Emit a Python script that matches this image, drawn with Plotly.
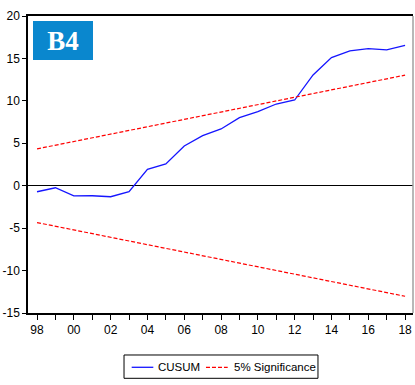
import plotly.graph_objects as go

years = list(range(1998, 2019))
cusum = [-0.71, -0.24, -1.2, -1.18, -1.3, -0.71, 1.93, 2.56, 4.68, 5.9, 6.69,
         8.02, 8.73, 9.63, 10.1, 13.05, 15.1, 15.9, 16.15, 16.0, 16.55]
bound_years = [1998, 2018]
upper = [4.34, 13.03]
lower = [-4.34, -13.03]

tick_years = list(range(1998, 2019))
tick_text = [str(y)[2:] if (y % 2 == 0) else "" for y in tick_years]
y_ticks = [-15, -10, -5, 0, 5, 10, 15, 20]
series_names = ["CUSUM", "5% Significance"]

FONT = "Liberation Sans, Arial, sans-serif"
BLUE = "#1515FF"
RED = "#FF0000"

fig = go.Figure()
fig.add_trace(go.Scatter(x=years, y=cusum, mode="lines", name=series_names[0],
                         line=dict(color=BLUE, width=1.3), showlegend=False))
fig.add_trace(go.Scatter(x=bound_years, y=upper, mode="lines", name=series_names[1],
                         line=dict(color=RED, width=1.2, dash="4px,2px"), showlegend=False))
fig.add_trace(go.Scatter(x=bound_years, y=lower, mode="lines", showlegend=False,
                         line=dict(color=RED, width=1.2, dash="4px,2px")))

fig.update_layout(
    width=415, height=385,
    margin=dict(l=28, r=2, t=16, b=72, autoexpand=False),
    paper_bgcolor="white", plot_bgcolor="white",
    font=dict(family=FONT, size=12, color="black"),
    showlegend=False,
    xaxis=dict(range=[1997.51, 2018.43], tickvals=tick_years, ticktext=tick_text,
               ticks="outside", ticklen=5, tickcolor="black", showgrid=False,
               showline=True, linecolor="black", linewidth=1.5, mirror=True,
               zeroline=False, tickfont=dict(size=12), automargin=False,
               ticklabeloverflow="allow"),
    yaxis=dict(range=[-15, 20], tickvals=y_ticks, ticktext=[str(v) for v in y_ticks],
               ticks="outside", ticklen=4, tickcolor="black", showgrid=False,
               showline=True, linecolor="black", linewidth=1.5,
               zeroline=True, zerolinecolor="black", zerolinewidth=1,
               tickfont=dict(size=12), automargin=False),
)

# right frame edge (grey)
fig.add_shape(type="line", xref="paper", yref="paper", x0=1, x1=1, y0=0, y1=1,
              line=dict(color="#A0A0A0", width=1.5))

# legend drawn below plot
fig.add_shape(type="rect", xref="paper", yref="paper", x0=0.2494, x1=0.7532,
              y0=-0.2199, y1=-0.1414, line=dict(color="black", width=1))
fig.add_shape(type="line", xref="paper", yref="paper", x0=0.2693, x1=0.3255,
              y0=-0.1828, y1=-0.1828, line=dict(color=BLUE, width=1.3))
fig.add_shape(type="line", xref="paper", yref="paper", x0=0.4623, x1=0.5187,
              y0=-0.1828, y1=-0.1828, line=dict(color=RED, width=1.2, dash="4px,2px"))
fig.add_annotation(xref="paper", yref="paper", x=0.3358, y=-0.1828, xanchor="left",
                   yanchor="middle", text=series_names[0], showarrow=False,
                   font=dict(size=11.5, family=FONT), borderpad=0)
fig.add_annotation(xref="paper", yref="paper", x=0.5317, y=-0.1828, xanchor="left",
                   yanchor="middle", text=series_names[1], showarrow=False,
                   font=dict(size=11.5, family=FONT), borderpad=0)

fig.add_annotation(xref="paper", yref="paper", x=0.013, y=0.983,
                   xanchor="left", yanchor="top", text="<b>B4</b>", showarrow=False,
                   bgcolor="#0A87CE", width=60, height=39, borderpad=0, borderwidth=0,
                   font=dict(family="Liberation Serif, Times New Roman, serif",
                             size=27, color="white"))

fig.write_html("out.html", config={"displayModeBar": False},
               post_script="document.body.style.margin='0px';")
